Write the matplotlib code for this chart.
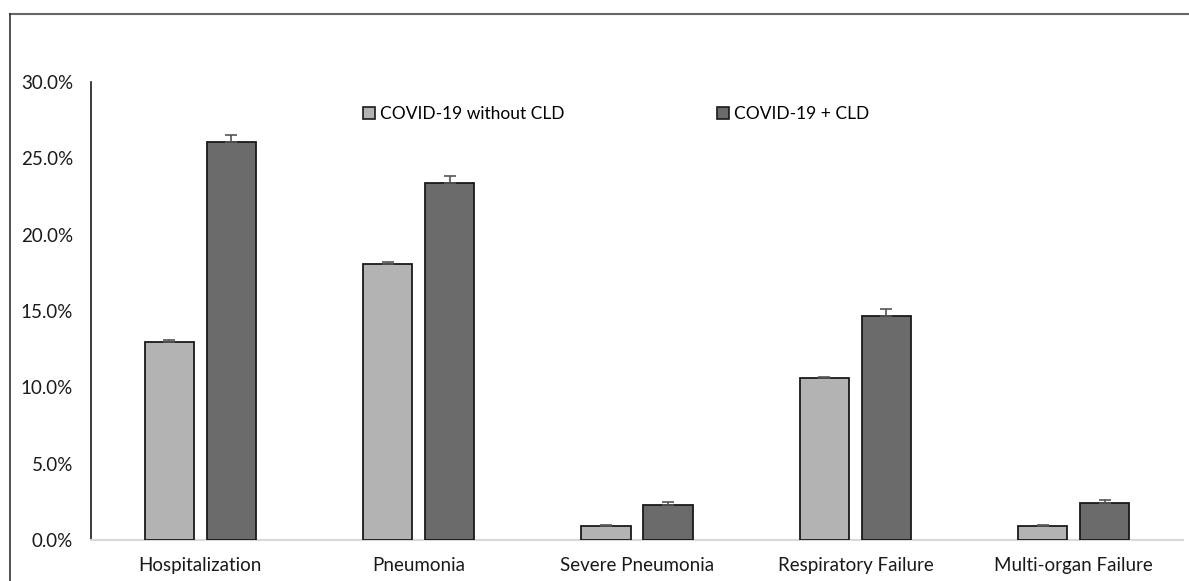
import matplotlib
matplotlib.use("Agg")
import matplotlib.pyplot as plt
from matplotlib.lines import Line2D
from matplotlib.ticker import PercentFormatter
import numpy as np

# --- DATA ---
categories = ["Hospitalization", "Pneumonia", "Severe Pneumonia",
              "Respiratory Failure", "Multi-organ Failure"]
without_cld = [13.0, 18.1, 0.9, 10.6, 0.9]
with_cld = [26.1, 23.4, 2.3, 14.7, 2.4]
err_without = [0.08, 0.08, 0.05, 0.05, 0.05]
err_with = [0.4, 0.45, 0.2, 0.4, 0.22]
series_labels = ["COVID-19 without CLD", "COVID-19 + CLD"]
yticks = [0, 5, 10, 15, 20, 25, 30]

# --- STYLE ---
plt.rcParams['font.family'] = ['Lato', 'DejaVu Sans']
LIGHT = '#b3b3b3'
DARK = '#6b6b6b'

fig = plt.figure(figsize=(11.89, 5.81), dpi=100, facecolor='white')
ax = fig.add_axes([91/1189, 1 - 540/581, (1183 - 91)/1189, (540 - 82)/581])

x = np.arange(len(categories))
w = 0.225
off = 0.142
ekw = dict(ecolor='#555555', elinewidth=1.2, capsize=4, capthick=1.2)

ax.bar(x - off, without_cld, w, color=LIGHT, edgecolor='#1a1a1a', linewidth=1.3,
       yerr=[np.zeros(len(x)), err_without], error_kw=ekw, label=series_labels[0], zorder=3)
ax.bar(x + off, with_cld, w, color=DARK, edgecolor='#1a1a1a', linewidth=1.3,
       yerr=[np.zeros(len(x)), err_with], error_kw=ekw, label=series_labels[1], zorder=3)

ax.set_xlim(-0.5, len(categories) - 0.5)
ax.set_ylim(0, 30)
ax.set_yticks(yticks)
ax.yaxis.set_major_formatter(PercentFormatter(decimals=1))
ax.set_xticks(x)
ax.set_xticklabels(categories)
ax.tick_params(axis='both', length=0, labelsize=13.5, colors='#1a1a1a')
ax.tick_params(axis='y', pad=13)
ax.tick_params(axis='x', pad=12)

for s in ['top', 'right']:
    ax.spines[s].set_visible(False)
ax.spines['left'].set_color('#1a1a1a')
ax.spines['left'].set_linewidth(1.2)
ax.spines['bottom'].set_color('#d9d9d9')
ax.spines['bottom'].set_linewidth(1.5)

leg = ax.legend(loc='upper left', bbox_to_anchor=((356 - 91)/1092, 1 - (99 - 82)/458),
                ncol=2, frameon=False, fontsize=12.5, handlelength=0.7, handleheight=0.7,
                handletextpad=0.3, columnspacing=8.75, borderaxespad=0)
for h in leg.legend_handles:
    h.set_edgecolor('#1a1a1a')
    h.set_linewidth(1.2)

# outer frame (top and left only)
fig.add_artist(Line2D([10/1189, 1], [1 - 14/581, 1 - 14/581], color='#666666', linewidth=1.5))
fig.add_artist(Line2D([10/1189, 10/1189], [0, 1 - 14/581], color='#333333', linewidth=1.2))

fig.savefig("out.png", dpi=100, facecolor='white')
